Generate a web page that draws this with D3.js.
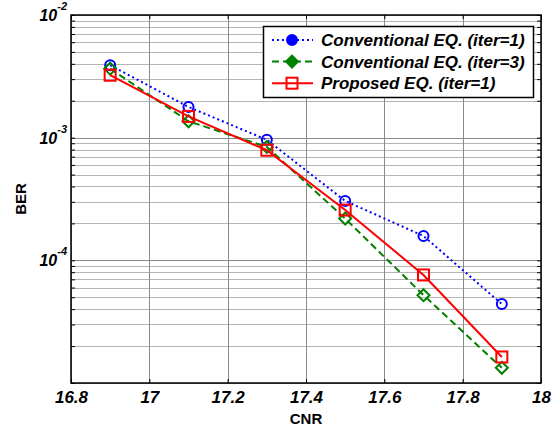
<!DOCTYPE html>
<html>
<head>
<meta charset="utf-8">
<script src="https://cdn.jsdelivr.net/npm/d3@7"></script>
<style>
  body { margin: 0; background: #fff; }
  text { font-family: Arial, "Liberation Sans", sans-serif; }
</style>
</head>
<body>
<svg id="chart" width="558" height="428"></svg>
<script>
// values
var cnr = [16.9, 17.1, 17.3, 17.5, 17.7, 17.9];
var berConv1 = [3.9e-3, 1.78e-3, 9.6e-4, 3.05e-4, 1.58e-4, 4.4e-5];
var berConv3 = [3.65e-3, 1.36e-3, 8.4e-4, 2.19e-4, 5.2e-5, 1.33e-5];
var berProp = [3.23e-3, 1.49e-3, 7.9e-4, 2.57e-4, 7.6e-5, 1.63e-5];
var xTicks = [16.8, 17, 17.2, 17.4, 17.6, 17.8, 18];
var yLabelTicks = [1e-2, 1e-3, 1e-4];
var seriesNames = ["Conventional EQ. (iter=1)", "Conventional EQ. (iter=3)", "Proposed EQ. (iter=1)"];

var margin = {top: 15, right: 17, bottom: 45, left: 71},
  width = 558 - margin.left - margin.right,
  height = 428 - margin.top - margin.bottom;

var svg = d3.select("#chart");
svg.append("rect").attr("width", 558).attr("height", 428).attr("fill", "#fff");

var g = svg.append("g").attr("transform", "translate(" + margin.left + "," + margin.top + ")");

var x = d3.scaleLinear().domain([16.8, 18]).range([0, width]);
var y = d3.scaleLog().domain([1e-5, 1e-2]).range([height, 0]);

var allY = y.ticks();
var majorY = allY.filter(function(d) { return Math.abs(Math.log10(d) - Math.round(Math.log10(d))) < 1e-9; });

// grid lines
g.selectAll(".ygrid").data(allY).enter().append("line")
  .attr("x1", 0).attr("x2", width)
  .attr("y1", function(d) { return Math.round(y(d)) + 0.5; })
  .attr("y2", function(d) { return Math.round(y(d)) + 0.5; })
  .attr("stroke", function(d) { return majorY.indexOf(d) >= 0 ? "#8a8a8a" : "#b4b4b4"; })
  .attr("stroke-width", 1);

g.selectAll(".xgrid").data(xTicks).enter().append("line")
  .attr("y1", 0).attr("y2", height)
  .attr("x1", function(d) { return Math.round(x(d)) + 0.5; })
  .attr("x2", function(d) { return Math.round(x(d)) + 0.5; })
  .attr("stroke", "#8a8a8a")
  .attr("stroke-width", 1);

// axes with inward ticks
var xb = g.append("g").attr("transform", "translate(0," + height + ")")
  .call(d3.axisBottom(x).tickValues(xTicks).tickSizeInner(-4).tickSizeOuter(0).tickFormat(d3.format("")));
var xt = g.append("g")
  .call(d3.axisTop(x).tickValues(xTicks).tickSizeInner(-4).tickSizeOuter(0).tickFormat(""));
var yl = g.append("g")
  .call(d3.axisLeft(y).tickValues(allY).tickSizeInner(-4).tickSizeOuter(0).tickFormat(""));
var yr = g.append("g").attr("transform", "translate(" + width + ",0)")
  .call(d3.axisRight(y).tickValues(allY).tickSizeInner(-4).tickSizeOuter(0).tickFormat(""));

[xb, xt, yl, yr].forEach(function(a) {
  a.select(".domain").remove();
  a.selectAll("line").attr("stroke", "#000").attr("stroke-width", 1);
});

xb.selectAll("text")
  .attr("y", 8)
  .attr("fill", "#000")
  .style("font-size", "17px")
  .style("font-weight", "bold")
  .style("font-style", "italic");

// y tick labels 10^n
var ylab = g.selectAll(".ylab").data(yLabelTicks).enter().append("text")
  .attr("x", -4)
  .attr("y", function(d) { return y(d) + 6; })
  .attr("text-anchor", "end")
  .style("font-weight", "bold")
  .style("font-style", "italic")
  .style("font-size", "16px");
ylab.append("tspan").text("10");
ylab.append("tspan")
  .attr("dy", -11)
  .style("font-size", "11px")
  .text(function(d) { return "-" + Math.round(-Math.log10(d)); });

// frame
g.append("rect").attr("width", width).attr("height", height)
  .attr("fill", "none").attr("stroke", "#000").attr("stroke-width", 1.5);

// axis titles
svg.append("text")
  .attr("x", margin.left + width / 2).attr("y", 424)
  .attr("text-anchor", "middle")
  .style("font-weight", "bold").style("font-size", "15px")
  .text("CNR");
svg.append("text")
  .attr("transform", "translate(26," + (margin.top + height / 2) + ") rotate(-90)")
  .attr("text-anchor", "middle")
  .style("font-weight", "bold").style("font-size", "15px")
  .text("BER");

// series
var series = [
  {vals: berConv1, color: "#0000ff", dash: "2,3", marker: "circle"},
  {vals: berConv3, color: "#008000", dash: "7,4", marker: "diamond"},
  {vals: berProp, color: "#ff0000", dash: null, marker: "square"}
];

var line = d3.line()
  .x(function(d) { return x(d[0]); })
  .y(function(d) { return y(d[1]); });

function drawMarker(sel, type, color, filled) {
  sel.each(function() {
    var s = d3.select(this);
    if (type == "circle") {
      s.append("circle").attr("r", 5);
    } else if (type == "diamond") {
      s.append("path").attr("d", "M0,-6L6,0L0,6L-6,0Z");
    } else {
      s.append("rect").attr("x", -5.5).attr("y", -5.5).attr("width", 11).attr("height", 11);
    }
    s.selectAll("circle,path,rect")
      .attr("fill", filled ? color : "none")
      .attr("stroke", color)
      .attr("stroke-width", 2);
  });
}

series.forEach(function(s) {
  var pts = cnr.map(function(c, i) { return [c, s.vals[i]]; });
  g.append("path").datum(pts)
    .attr("d", line)
    .attr("fill", "none")
    .attr("stroke", s.color)
    .attr("stroke-width", 2)
    .attr("stroke-dasharray", s.dash);
  var m = g.selectAll(null).data(pts).enter().append("g")
    .attr("transform", function(d) { return "translate(" + x(d[0]) + "," + y(d[1]) + ")"; });
  drawMarker(m, s.marker, s.color, false);
});

// legend
var leg = svg.append("g");
leg.append("rect")
  .attr("x", 263.5).attr("y", 26.5).attr("width", 270).attr("height", 71)
  .attr("fill", "#fff").attr("stroke", "#000").attr("stroke-width", 1.5);

series.forEach(function(s, i) {
  var cy = 40 + i * 21.6;
  leg.append("line")
    .attr("x1", 272).attr("x2", 313).attr("y1", cy).attr("y2", cy)
    .attr("stroke", s.color).attr("stroke-width", 2)
    .attr("stroke-dasharray", s.dash);
  var m = leg.append("g").attr("transform", "translate(292," + cy + ")");
  drawMarker(m, s.marker, s.color, s.marker != "square");
  leg.append("text")
    .attr("x", 321).attr("y", cy + 6)
    .style("font-weight", "bold").style("font-style", "italic").style("font-size", "17px")
    .text(seriesNames[i]);
});
</script>
</body>
</html>
